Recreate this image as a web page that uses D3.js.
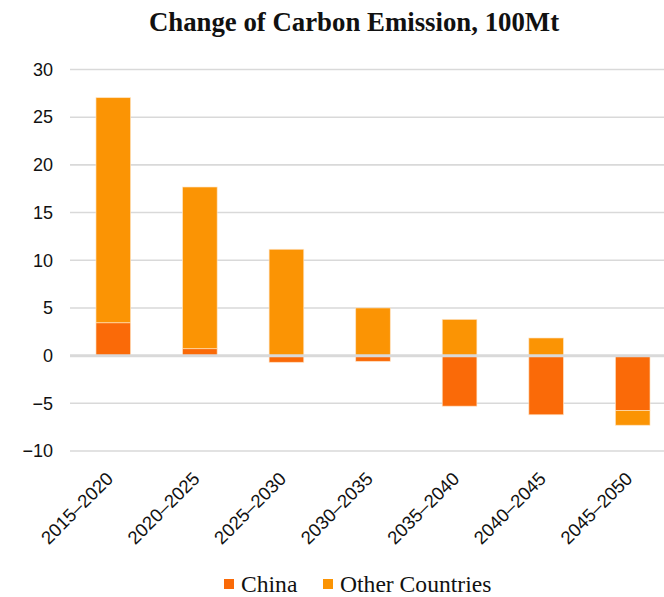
<!DOCTYPE html>
<html>
<head>
<meta charset="utf-8">
<script src="https://cdn.jsdelivr.net/npm/d3@7"></script>
<style>
  html, body { margin: 0; padding: 0; background: #fff; }
  svg { display: block; }
</style>
</head>
<body>
<svg id="chart" width="664" height="597"></svg>
<script>
// Change of carbon emission per five-year period, in 100 Mt
const periods = ["2015–2020", "2020–2025", "2025–2030", "2030–2035", "2035–2040", "2040–2045", "2045–2050"];
const china = [3.45, 0.73, -0.7, -0.6, -5.3, -6.2, -5.75];
const otherCountries = [23.6, 16.95, 11.15, 5.0, 3.8, 1.85, -1.55];
const yTicks = [-10, -5, 0, 5, 10, 15, 20, 25, 30];
const seriesNames = ["China", "Other Countries"];
const seriesColors = ["#fa6a08", "#fb9404"];

const svg = d3.select("#chart");
const W = 664, H = 597;

const x = d3.scaleBand().domain(periods).range([70, 676]).paddingInner(0.6).paddingOuter(0.3);
const y = d3.scaleLinear().domain([-10, 30]).range([451, 69.5]);

const rows = periods.map((p, i) => ({ period: p, China: china[i], "Other Countries": otherCountries[i] }));
const stacked = d3.stack().keys(seriesNames).offset(d3.stackOffsetDiverging)(rows);

// horizontal grid
svg.append("g").selectAll("line")
  .data(yTicks.filter(t => t !== 0))
  .join("line")
  .attr("x1", 70).attr("x2", W)
  .attr("y1", d => y(d)).attr("y2", d => y(d))
  .attr("stroke", "#d9d9d9").attr("stroke-width", 1.6);

// y axis labels
const yAxis = svg.append("g")
  .attr("transform", "translate(53,0)")
  .call(d3.axisLeft(y).tickValues(yTicks).tickSize(0).tickPadding(0).tickFormat(d3.format("")));
yAxis.select(".domain").remove();
yAxis.selectAll("text")
  .attr("font-family", "'Liberation Sans', Arial, sans-serif")
  .attr("font-size", 18)
  .attr("fill", "#111");

// stacked bars
svg.append("g").selectAll("g")
  .data(stacked)
  .join("g")
  .attr("fill", (d, i) => seriesColors[i])
  .selectAll("rect")
  .data(d => d)
  .join("rect")
  .attr("x", d => x(d.data.period))
  .attr("width", x.bandwidth())
  .attr("y", d => y(Math.max(d[0], d[1])))
  .attr("height", d => Math.abs(y(d[0]) - y(d[1])))
  .attr("stroke", "rgba(255,230,200,0.8)")
  .attr("stroke-width", 0.8);

// zero line over the bars
svg.append("line")
  .attr("x1", 70).attr("x2", W)
  .attr("y1", y(0)).attr("y2", y(0))
  .attr("stroke", "#d9d9d9").attr("stroke-width", 3);

// x axis labels
const xAxis = svg.append("g")
  .attr("transform", "translate(0,462)")
  .call(d3.axisBottom(x).tickSize(0).tickPadding(0));
xAxis.select(".domain").remove();
xAxis.selectAll("text")
  .attr("font-family", "'Liberation Sans', Arial, sans-serif")
  .attr("font-size", 18.5)
  .attr("fill", "#111")
  .attr("text-anchor", "end")
  .attr("dx", "-0.65em")
  .attr("dy", "0.72em")
  .attr("transform", "rotate(-45)");

// title
svg.append("text")
  .attr("x", 354).attr("y", 31)
  .attr("text-anchor", "middle")
  .attr("font-family", "'Liberation Serif', 'Times New Roman', serif")
  .attr("font-weight", "bold")
  .attr("font-size", 26.8)
  .attr("fill", "#111")
  .text("Change of Carbon Emission, 100Mt");

// legend
const legendX = [224, 323];
const legend = svg.append("g").selectAll("g")
  .data(seriesNames)
  .join("g")
  .attr("transform", (d, i) => `translate(${legendX[i]},579)`);
legend.append("rect")
  .attr("width", 10).attr("height", 10)
  .attr("fill", (d, i) => seriesColors[i]);
legend.append("text")
  .attr("x", 17).attr("y", 13)
  .attr("font-family", "'Liberation Serif', 'Times New Roman', serif")
  .attr("font-size", 23.6)
  .attr("fill", "#111")
  .text(d => d);
</script>
</body>
</html>
